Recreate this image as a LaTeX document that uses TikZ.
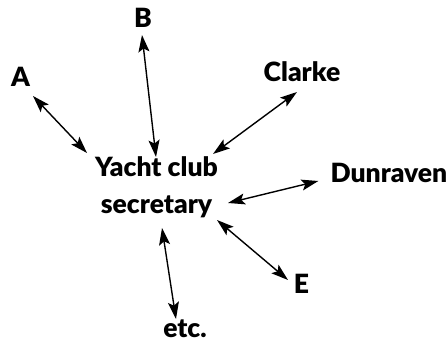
\documentclass[tikz,border=0pt]{standalone}
\usepackage{fontspec}
\setmainfont{Lato}[BoldFont={Lato Black}]
\usetikzlibrary{arrows.meta,calc}

\newcommand{\partyfont}{\fontsize{26.5}{37}\selectfont\bfseries}

\begin{document}
\begin{tikzpicture}[
            x=1pt, y=-1pt,
            party/.style={font=\partyfont, inner sep=0pt, anchor=base},
            link/.style={line width=1.4pt,
                {Stealth[length=17pt,width=11pt,inset=3.5pt]}-{Stealth[length=17pt,width=11pt,inset=3.5pt]}}]

            \useasboundingbox (0,0) rectangle (448,342);

            \node[party, align=center] (sec) at (156.5,214) {Yacht club\\secretary};
            \node[party] (A) at (20.5,87) {A};
            \node[party] (B) at (143,28) {B};
            \node[party] (clarke) at (302,82) {Clarke};
            \node[party, anchor=base east] (dunraven) at (447.5,183) {Dunraven};
            \node[party] (E) at (301.5,294) {E};
            \node[party] (etc) at (185,338) {etc.};

            \draw[link] ($(A.base)+(12.5,9)$) -- ($(sec.base)+(-69.5,-61)$);
            \draw[link] ($(B.base)+(-1,7)$) -- ($(sec.base)+(-0.5,-57)$);
            \draw[link] ($(clarke.base)+(-5,10)$) -- ($(sec.base)+(56.5,-60)$);
            \draw[link] ($(dunraven.base west)+(-12,-2)$) -- ($(sec.base)+(71.5,-11)$);
            \draw[link] ($(E.base)+(-13.5,-14)$) -- ($(sec.base)+(60.5,6)$);
            \draw[link] ($(etc.base)+(-9,-19)$) -- ($(sec.base)+(5.5,14)$);
\end{tikzpicture}
\end{document}
